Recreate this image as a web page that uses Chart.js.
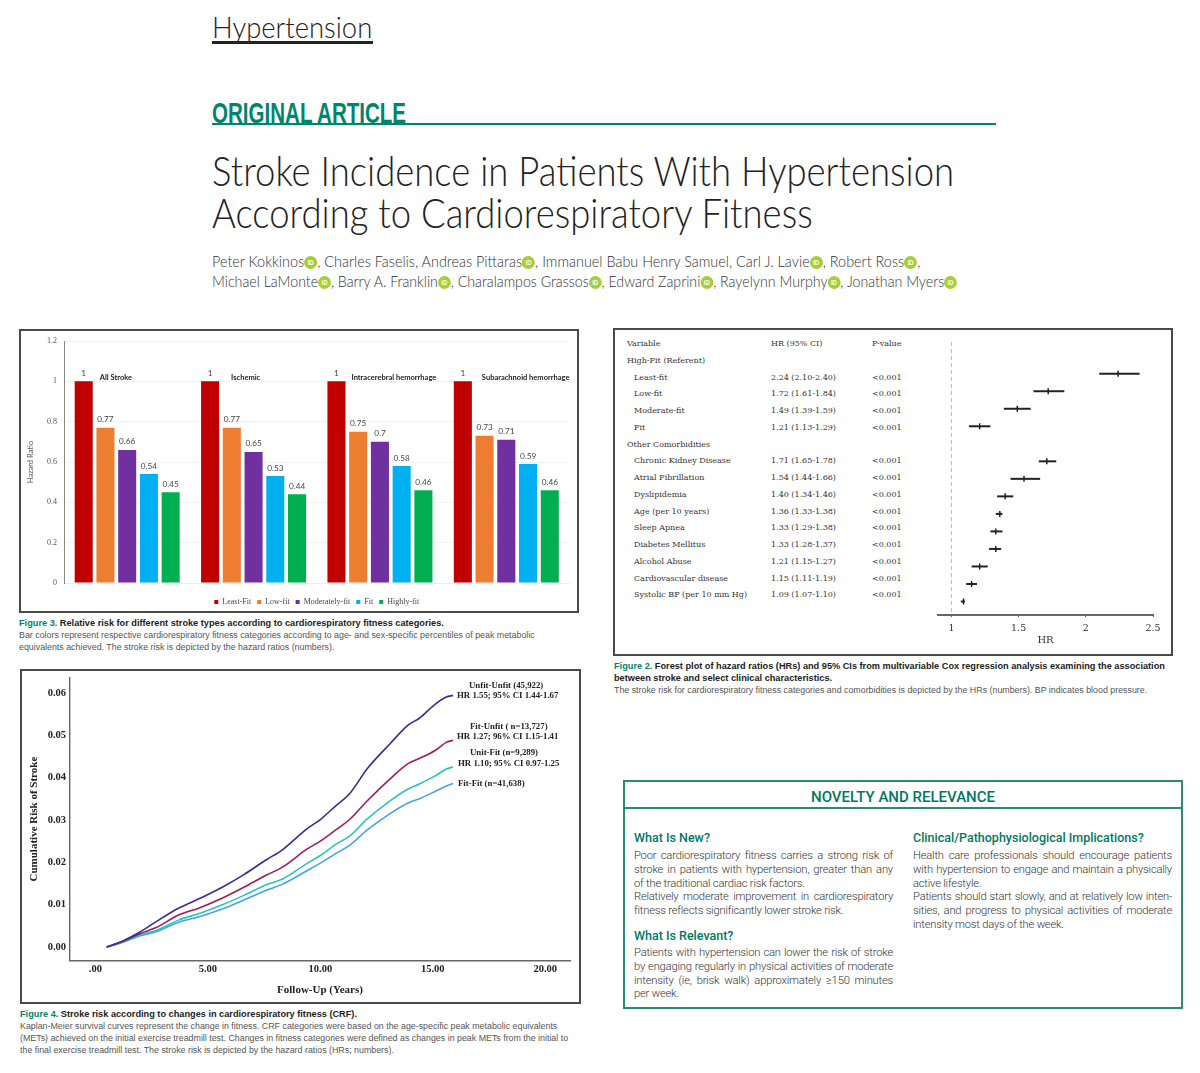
<!DOCTYPE html>
<html>
<head>
<meta charset="utf-8">
<title>Stroke Incidence in Patients With Hypertension According to Cardiorespiratory Fitness</title>
<script src="https://cdn.jsdelivr.net/npm/chart.js@4"></script>
<style>
  html, body { margin: 0; padding: 0; background: #fff; }
  #page { position: relative; width: 1200px; height: 1073px; overflow: hidden; font-family: "Liberation Sans", sans-serif; }
  #page > div, #page > canvas { position: absolute; }
  .nw { white-space: nowrap; transform-origin: left top; }
  .frame { border: 2px solid #4a4a4a; box-sizing: border-box; }
  .journal { left: 212px; top: 8px; font: 300 30px Lato, sans-serif; color: #222; transform: scaleX(.915); }
  .rule1 { left: 212px; top: 41px; width: 161px; height: 3px; background: #222; }
  .kicker { left: 212px; top: 96px; font: bold 30px "Liberation Sans", sans-serif; color: #00856a; transform: scaleX(.685); }
  .rule2 { left: 212px; top: 123px; width: 784px; height: 2px; background: #00856a; }
  .title { left: 212px; font: 300 41px Lato, sans-serif; color: #222; transform: scaleX(.89); }
  .authors { left: 212px; font: 300 15.5px Lato, sans-serif; color: #333; }
  .orcid { display: inline-block; width: 14px; height: 13px; border-radius: 50%; background: #a6ce39; color: #fff; font: bold 6.5px/13px "Liberation Sans", sans-serif; text-align: center; vertical-align: 2px; }
  .cap { font-size: 8.85px; line-height: 12px; color: #555; }
  .cap b { font-size: 9.2px; color: #222; }
  .cap b i { color: #00856a; font-style: normal; }
  .tbl { font: 8px/12px "DejaVu Serif", serif; color: #333; }
  .note { font: bold 8.8px/11px "Liberation Serif", serif; color: #222; }
  .box { left: 623px; top: 780px; width: 560px; height: 229px; border: 2px solid #2a8a72; box-sizing: border-box; }
  .boxline { left: 623px; top: 807px; width: 560px; height: 2px; background: #2a8a72; }
  .boxhead { left: 623px; width: 560px; top: 788px; text-align: center; font: 500 15px/18px Roboto, sans-serif; color: #00785f; }
  .sub { font: 500 12.5px/14px Roboto, sans-serif; color: #00785f; }
  .ln { width: 259px; font: 300 11.2px/14px Roboto, sans-serif; letter-spacing: -.2px; color: #333; text-align-last: justify; white-space: nowrap; }
  .ln.end { text-align-last: left; }
</style>
</head>
<body>
<div id="page">
  <div class="journal nw">Hypertension</div>
  <div class="rule1"></div>
  <div class="kicker nw">ORIGINAL ARTICLE</div>
  <div class="rule2"></div>
  <div class="title nw" style="top:146px">Stroke Incidence in Patients With Hypertension</div>
  <div class="title nw" style="top:188px">According to Cardiorespiratory Fitness</div>
  <div class="authors nw" style="top:252px;transform:scaleX(.93)">Peter Kokkinos<span class="orcid">iD</span>, Charles Faselis, Andreas Pittaras<span class="orcid">iD</span>, Immanuel Babu Henry Samuel, Carl J. Lavie<span class="orcid">iD</span>, Robert Ross<span class="orcid">iD</span>,</div>
  <div class="authors nw" style="top:272px;transform:scaleX(.915)">Michael LaMonte<span class="orcid">iD</span>, Barry A. Franklin<span class="orcid">iD</span>, Charalampos Grassos<span class="orcid">iD</span>, Edward Zaprini<span class="orcid">iD</span>, Rayelynn Murphy<span class="orcid">iD</span>, Jonathan Myers<span class="orcid">iD</span></div>

  <div class="frame" style="left:19px;top:329px;width:560px;height:284px"></div>
  <canvas id="barChart" width="555" height="285" style="left:21px;top:331px"></canvas>
  <div class="cap nw" style="left:19px;top:617px"><b><i>Figure 3.</i> Relative risk for different stroke types according to cardiorespiratory fitness categories.</b></div>
  <div class="cap nw" style="left:19px;top:629px">Bar colors represent respective cardiorespiratory fitness categories according to age- and sex-specific percentiles of peak metabolic</div>
  <div class="cap nw" style="left:19px;top:641px">equivalents achieved. The stroke risk is depicted by the hazard ratios (numbers).</div>

  <div class="frame" style="left:613px;top:328px;width:560px;height:328px"></div>
  <canvas id="forestChart" width="250" height="322" style="left:921px;top:331px"></canvas>
  <div class="cap nw" style="left:614px;top:660px"><b><i>Figure 2.</i> Forest plot of hazard ratios (HRs) and 95% CIs from multivariable Cox regression analysis examining the association</b></div>
  <div class="cap nw" style="left:614px;top:672px"><b>between stroke and select clinical characteristics.</b></div>
  <div class="cap nw" style="left:614px;top:684px">The stroke risk for cardiorespiratory fitness categories and comorbidities is depicted by the HRs (numbers). BP indicates blood pressure.</div>

  <div class="frame" style="left:20px;top:669px;width:561px;height:335px"></div>
  <canvas id="riskChart" width="556" height="330" style="left:22px;top:671px"></canvas>
  <div class="note nw" style="left:469px;top:680px">Unfit-Unfit (45,922)</div>
  <div class="note nw" style="left:457px;top:690px">HR 1.55; 95% CI 1.44-1.67</div>
  <div class="note nw" style="left:470px;top:721px">Fit-Unfit ( n=13,727)</div>
  <div class="note nw" style="left:457px;top:731px">HR 1.27; 96% CI 1.15-1.41</div>
  <div class="note nw" style="left:470px;top:747px">Unit-Fit (n=9,289)</div>
  <div class="note nw" style="left:458px;top:758px">HR 1.10; 95% CI 0.97-1.25</div>
  <div class="note nw" style="left:458px;top:778px">Fit-Fit (n=41,638)</div>
  <div class="cap nw" style="left:20px;top:1008px"><b><i>Figure 4.</i> Stroke risk according to changes in cardiorespiratory fitness (CRF).</b></div>
  <div class="cap nw" style="left:20px;top:1020px">Kaplan-Meier survival curves represent the change in fitness. CRF categories were based on the age-specific peak metabolic equivalents</div>
  <div class="cap nw" style="left:20px;top:1032px">(METs) achieved on the initial exercise treadmill test. Changes in fitness categories were defined as changes in peak METs from the initial to</div>
  <div class="cap nw" style="left:20px;top:1044px">the final exercise treadmill test. The stroke risk is depicted by the hazard ratios (HRs; numbers).</div>

  <div class="box"></div>
  <div class="boxline"></div>
  <div class="boxhead">NOVELTY AND RELEVANCE</div>
  <div class="sub nw" style="left:634px;top:831px">What Is New?</div>
  <div class="sub nw" style="left:634px;top:929px">What Is Relevant?</div>
  <div class="sub nw" style="left:913px;top:831px">Clinical/Pathophysiological Implications?</div>
</div>

<script>
// figure 3
const strokeTypes = ['All Stroke', 'Ischemic', 'Intracerebral hemorrhage', 'Subarachnoid hemorrhage'];
const leastFit = [1, 1, 1, 1];
const lowFit = [0.77, 0.77, 0.75, 0.73];
const moderatelyFit = [0.66, 0.65, 0.7, 0.71];
const fit = [0.54, 0.53, 0.58, 0.59];
const highlyFit = [0.45, 0.44, 0.46, 0.46];

// figure 2
const forestGroups = ['High-Fit (Referent)', 'Other Comorbidities'];
const fitnessNames = ['Least-fit', 'Low-fit', 'Moderate-fit', 'Fit'];
const comorbidityNames = ['Chronic Kidney Disease', 'Atrial Fibrillation', 'Dyslipidemia', 'Age (per 10 years)', 'Sleep Apnea', 'Diabetes Mellitus', 'Alcohol Abuse', 'Cardiovascular disease', 'Systolic BP (per 10 mm Hg)'];
const fitnessHr = [2.24, 1.72, 1.49, 1.21];
const fitnessLow = [2.10, 1.61, 1.39, 1.13];
const fitnessHigh = [2.40, 1.84, 1.59, 1.29];
const comorbidityHr = [1.71, 1.54, 1.40, 1.36, 1.33, 1.33, 1.21, 1.15, 1.09];
const comorbidityLow = [1.65, 1.44, 1.34, 1.33, 1.29, 1.28, 1.15, 1.11, 1.07];
const comorbidityHigh = [1.78, 1.66, 1.46, 1.38, 1.38, 1.37, 1.27, 1.19, 1.10];

// figure 4
const followUpYears = [0.5, 1.2, 2, 2.7, 3.67, 4.65, 5.7, 6.6, 7.6, 8.3, 9.4, 10, 10.7, 11.3, 12.1, 13.1, 13.9, 14.4, 15.1, 15.6, 15.9];
const unfitUnfit = [0, .0014, .0036, .006, .0091, .0115, .0143, .0171, .0206, .0229, .0279, .0301, .0334, .0362, .0422, .048, .0524, .054, .0573, .059, .0594];
const fitUnfit = [0, .0013, .0032, .0046, .0075, .0093, .0117, .0141, .017, .0188, .0231, .025, .0277, .0301, .0346, .0397, .0433, .0445, .0464, .0483, .0488];
const unitFit = [0, .0012, .0029, .0039, .0063, .008, .0101, .0122, .0147, .016, .0197, .0216, .0243, .0262, .0303, .0345, .0373, .0385, .0404, .042, .0425];
const fitFit = [0, .0011, .0027, .0036, .0058, .0072, .0091, .0111, .0134, .0148, .018, .0198, .0221, .024, .0277, .0315, .034, .035, .0367, .038, .0386];

// novelty box text, one entry per printed line
const whatIsNew = ['Poor cardiorespiratory fitness carries a strong risk of', 'stroke in patients with hypertension, greater than any', 'of the traditional cardiac risk factors.', 'Relatively moderate improvement in cardiorespiratory', 'fitness reflects significantly lower stroke risk.'];
const whatIsRelevant = ['Patients with hypertension can lower the risk of stroke', 'by engaging regularly in physical activities of moderate', 'intensity (ie, brisk walk) approximately ≥150 minutes', 'per week.'];
const implications = ['Health care professionals should encourage patients', 'with hypertension to engage and maintain a physically', 'active lifestyle.', 'Patients should start slowly, and at relatively low inten-', 'sities, and progress to physical activities of moderate', 'intensity most days of the week.'];

const SERIF = '"Liberation Serif", serif';
const page = document.getElementById('page');

function addDiv(cls, text, left, top) {
  const d = document.createElement('div');
  d.className = cls;
  d.textContent = text;
  d.style.left = left + 'px';
  d.style.top = top + 'px';
  page.appendChild(d);
}

function addParagraph(lines, left, top, endLines) {
  lines.forEach((line, i) => {
    addDiv(endLines.includes(i) ? 'ln end' : 'ln', line, left, top + i * 13.8);
  });
}
addParagraph(whatIsNew, 634, 849, [2, 4]);
addParagraph(whatIsRelevant, 634, 946, [3]);
addParagraph(implications, 913, 849, [2, 5]);

// forest plot table
const ROW_H = 16.75;
function addRow(row, indent, name, hr, low, high) {
  const top = 338 + row * ROW_H;
  addDiv('tbl nw', name, 627 + indent, top);
  if (hr === undefined) return;
  addDiv('tbl nw', `${hr.toFixed(2)} (${low.toFixed(2)}-${high.toFixed(2)})`, 771, top);
  addDiv('tbl nw', '<0.001', 872, top);
}
addDiv('tbl nw', 'Variable', 627, 338);
addDiv('tbl nw', 'HR (95% CI)', 771, 338);
addDiv('tbl nw', 'P-value', 872, 338);
addRow(1, 0, forestGroups[0]);
fitnessNames.forEach((n, i) => addRow(2 + i, 7, n, fitnessHr[i], fitnessLow[i], fitnessHigh[i]));
addRow(6, 0, forestGroups[1]);
comorbidityNames.forEach((n, i) => addRow(7 + i, 7, n, comorbidityHr[i], comorbidityLow[i], comorbidityHigh[i]));

Chart.defaults.animation = false;
Chart.defaults.responsive = false;

const barLabels = {
  id: 'barLabels',
  afterDatasetsDraw(chart) {
    const ctx = chart.ctx;
    ctx.save();
    ctx.font = '8.2px Lato, sans-serif';
    ctx.fillStyle = '#444';
    ctx.textAlign = 'center';
    ctx.textBaseline = 'bottom';
    chart.data.datasets.forEach((ds, d) => {
      chart.getDatasetMeta(d).data.forEach((bar, i) => {
        ctx.fillText(String(ds.data[i]), bar.x, bar.y - 4);
      });
    });
    // stroke type heading beside each red bar
    const offsets = [7, 12, 6, 10];
    const first = chart.getDatasetMeta(0).data;
    ctx.font = 'bold 7.5px Lato, sans-serif';
    ctx.fillStyle = '#222';
    ctx.textAlign = 'left';
    ctx.textBaseline = 'middle';
    strokeTypes.forEach((name, i) => {
      ctx.fillText(name, first[i].x + first[i].width / 2 + offsets[i], chart.scales.y.getPixelForValue(1) - 4);
    });
    ctx.restore();
  }
};

new Chart(document.getElementById('barChart'), {
  type: 'bar',
  plugins: [barLabels],
  data: {
    labels: strokeTypes,
    datasets: [
      { label: 'Least-Fit', data: leastFit, backgroundColor: '#c00000' },
      { label: 'Low-fit', data: lowFit, backgroundColor: '#ed7d31' },
      { label: 'Moderately-fit', data: moderatelyFit, backgroundColor: '#7030a0' },
      { label: 'Fit', data: fit, backgroundColor: '#00b0f0' },
      { label: 'Highly-fit', data: highlyFit, backgroundColor: '#00b050' }
    ]
  },
  options: {
    layout: { padding: { top: 10, right: 6.5, bottom: 0, left: 0 } },
    datasets: { bar: { barPercentage: 0.83, categoryPercentage: 0.86 } },
    plugins: {
      tooltip: { enabled: false },
      legend: {
        position: 'bottom',
        fullSize: false,
        labels: { usePointStyle: true, pointStyle: 'rect', boxWidth: 4, boxHeight: 4, padding: 6, color: '#444', font: { family: SERIF, size: 8 } }
      }
    },
    scales: {
      x: {
        afterFit: s => { s.height = 9; },
        grid: { display: false, drawTicks: false },
        border: { color: '#eee' },
        ticks: { display: false }
      },
      y: {
        min: 0,
        max: 1.2,
        afterFit: s => { s.width = 43; s.paddingTop = 0; },
        grid: { color: '#f0f0f0', drawTicks: false },
        border: { color: '#888', width: 1 },
        ticks: { stepSize: 0.2, padding: 7, color: '#555', font: { family: SERIF, size: 8 }, callback: v => String(+v.toFixed(1)) },
        title: { display: true, text: 'Hazard Ratio', color: '#555', padding: { top: 5, bottom: 0 }, font: { family: 'Lato, sans-serif', size: 7.5 } }
      }
    }
  }
});

// one short line per row for the CI, a tick at the HR
const forestRows = [0, 1, 2, 3, 5, 6, 7, 8, 9, 10, 11, 12, 13];
const forestHr = fitnessHr.concat(comorbidityHr);
const forestLow = fitnessLow.concat(comorbidityLow);
const forestHigh = fitnessHigh.concat(comorbidityHigh);
const forestSets = forestRows.map((row, i) => ({
  data: [{ x: forestLow[i], y: row }, { x: forestHigh[i], y: row }],
  showLine: true, borderColor: '#222', borderWidth: 2, pointRadius: 0
}));
forestSets.push({
  data: forestRows.map((row, i) => ({ x: forestHr[i], y: row })),
  pointStyle: 'line', rotation: 90, pointRadius: 3, pointBorderWidth: 1.4, pointBorderColor: '#111', showLine: false
});
forestSets.push({
  data: [{ x: 1, y: -1.81 }, { x: 1, y: 13.77 }],
  showLine: true, borderColor: '#bbb', borderWidth: 1, borderDash: [4, 3], pointRadius: 0
});

new Chart(document.getElementById('forestChart'), {
  type: 'scatter',
  data: { datasets: forestSets },
  options: {
    layout: { padding: { top: 11, right: 18, bottom: 0, left: 17 } },
    plugins: { legend: { display: false }, tooltip: { enabled: false } },
    scales: {
      x: {
        min: 0.9,
        max: 2.5,
        afterFit: s => { s.height = 38; },
        afterBuildTicks: s => { s.ticks = [1, 1.5, 2, 2.5].map(v => ({ value: v })); },
        grid: { drawOnChartArea: false, tickLength: 2, color: '#555' },
        border: { color: '#666', width: 2 },
        ticks: { padding: 7, color: '#333', maxRotation: 0, font: { family: '"DejaVu Serif", serif', size: 9.5, lineHeight: 1 }, callback: v => String(v) },
        title: { display: true, text: 'HR', color: '#333', padding: { top: 1.5, bottom: 7 }, font: { family: '"DejaVu Serif", serif', size: 10 } }
      },
      y: { display: false, reverse: true, min: -1.81, max: 13.77 }
    }
  }
});

const tickFont = { family: SERIF, size: 10.5, weight: 'bold' };
new Chart(document.getElementById('riskChart'), {
  type: 'line',
  data: {
    labels: followUpYears,
    datasets: [
      { label: 'Unfit-Unfit', data: unfitUnfit, borderColor: '#3c2a96' },
      { label: 'Fit-Unfit', data: fitUnfit, borderColor: '#a01c55' },
      { label: 'Unit-Fit', data: unitFit, borderColor: '#2dc3bd' },
      { label: 'Fit-Fit', data: fitFit, borderColor: '#41a5e6' }
    ]
  },
  options: {
    layout: { padding: { top: 7, right: 8, bottom: 0, left: 0 } },
    elements: { line: { borderWidth: 1.6, cubicInterpolationMode: 'monotone' }, point: { radius: 0 } },
    plugins: { legend: { display: false }, tooltip: { enabled: false } },
    scales: {
      x: {
        type: 'linear',
        min: -1.13,
        max: 21.1,
        afterBuildTicks: s => { s.ticks = [0, 5, 10, 15, 20].map(v => ({ value: v })); },
        grid: { display: false, drawTicks: false },
        border: { color: '#666', width: 1.4 },
        ticks: { padding: 3, color: '#222', maxRotation: 0, font: tickFont, callback: v => v === 0 ? '.00' : v.toFixed(2) },
        title: { display: true, text: 'Follow-Up (Years)', color: '#222', padding: { top: 5, bottom: 4 }, font: { family: SERIF, size: 11, weight: 'bold' } }
      },
      y: {
        min: -0.0031,
        max: 0.0635,
        afterFit: s => { s.width = 48; s.paddingTop = 0; },
        afterBuildTicks: s => { s.ticks = [0, .01, .02, .03, .04, .05, .06].map(v => ({ value: v })); },
        grid: { display: false, drawTicks: false },
        border: { color: '#666', width: 1.4 },
        ticks: { padding: 4, color: '#222', font: tickFont, callback: v => v.toFixed(2) },
        title: { display: true, text: 'Cumulative Risk of Stroke', color: '#222', padding: { top: 5.4, bottom: 0 }, font: { family: SERIF, size: 11, weight: 'bold' } }
      }
    }
  }
});
</script>
</body>
</html>
